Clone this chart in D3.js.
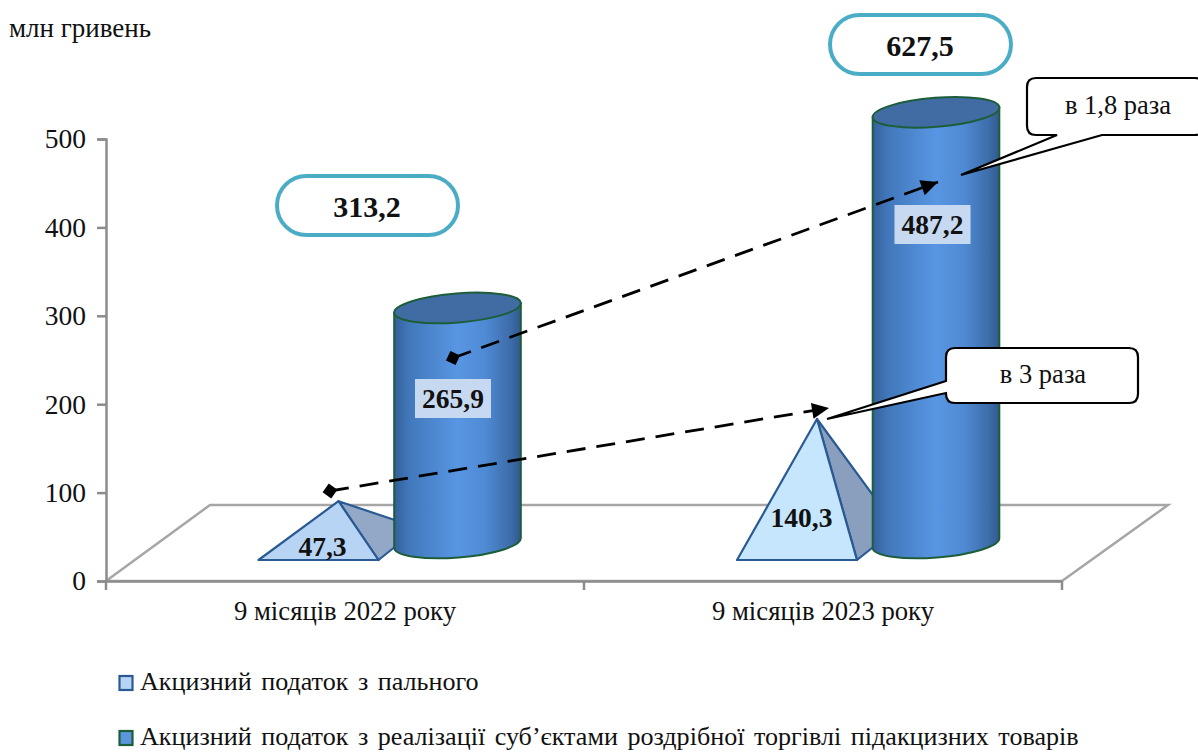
<!DOCTYPE html>
<html><head><meta charset="utf-8">
<script src="https://cdn.jsdelivr.net/npm/d3@7"></script>
<style>html,body{margin:0;padding:0;background:#fff}svg{display:block}text{font-family:"Liberation Serif",serif;fill:#111}</style>
</head><body><div id="c"></div>
<script>
const categories = ["9 місяців 2022 року", "9 місяців 2023 року"];
const fuelValues = [47.3, 140.3];
const retailValues = [265.9, 487.2];
const totals = ["313,2", "627,5"];
const yTicks = [0, 100, 200, 300, 400, 500];
const seriesNames = ["Акцизний податок з пального", "Акцизний податок з реалізації суб’єктами роздрібної торгівлі підакцизних товарів"];
const ratios = ["в 1,8 раза", "в 3 раза"];
const fmt = v => String(v).replace(".", ",");

const W = 1198, H = 752;
const svg = d3.select("#c").append("svg").attr("width", W).attr("height", H);
const defs = svg.append("defs");
const grad = defs.append("linearGradient").attr("id", "cyl");
[[0,"#34609a"],[.12,"#4278bb"],[.5,"#5896e3"],[.72,"#4f8ad4"],[.92,"#3d6ca8"],[1,"#315a8e"]].forEach(s =>
  grad.append("stop").attr("offset", s[0]).attr("stop-color", s[1]));
const mk = (id, path, w, h) => defs.append("marker").attr("id", id).attr("markerUnits", "userSpaceOnUse")
  .attr("viewBox", `${-w} ${-h} ${2*w} ${2*h}`).attr("markerWidth", 2*w).attr("markerHeight", 2*h)
  .attr("orient", "auto").attr("refX", 0).attr("refY", 0).append("path").attr("d", path).attr("fill", "#000");
mk("arrow", "M0,0L-17,-8L-17,8Z", 18, 9);
mk("diamond", "M-7.5,0L0,-7.5L7.5,0L0,7.5Z", 8, 8);

const y = d3.scaleLinear().domain([0, 500]).range([581, 139]);
const x = d3.scaleBand().domain(categories).range([106, 1062]);
const seriesX = d3.scalePoint().domain(seriesNames).range([-26.5, 112.5]);
const cx = (i, s) => x(categories[i]) + x.bandwidth() / 2 + seriesX(seriesNames[s]) + i * .5;
const depth = 38, baseY = y(0) - depth;
const axisCol = "#8c8c8c";

// floor
svg.append("path").attr("fill", "#fff").attr("stroke", "#a6a6a6").attr("stroke-width", 2.5)
  .attr("d", `M${x.range()[0]},${y(0)}L210,505L1168,505L${x.range()[1]},${y(0)}Z`);

// axes
const gy = svg.append("g").attr("transform", "translate(106,0)").call(d3.axisLeft(y).tickValues(yTicks).tickSize(9).tickPadding(11));
const gx = svg.append("g").attr("transform", `translate(0,${y(0)})`).call(d3.axisBottom(x).tickSize(0).tickPadding(20));
[0, 1, 2].forEach(i => gx.append("line").attr("x1", 106 + i * x.bandwidth()).attr("x2", 106 + i * x.bandwidth()).attr("y2", 9));
[gy, gx].forEach(g => { g.selectAll("path,line").attr("stroke", axisCol).attr("stroke-width", 2.5);
  g.selectAll("text").attr("font-family", "Liberation Serif").attr("fill", "#111"); });
gy.selectAll("text").attr("font-size", 27.5);
gx.selectAll("text").attr("font-size", 26.7).attr("dy", "0.71em");

// pyramids
const pyrFill = ["#b8d4f5", "#c6e6fd"], pyrSide = ["#93a8c6", "#8a9fbd"];
fuelValues.forEach((v, i) => {
  const c = cx(i, 0), a = [c + 20, y(v) - depth], fl = [c - 60, 560], fr = [c + 60, 560], br = [c + 100, 528];
  const g = svg.append("g").attr("stroke", "#2a5a94").attr("stroke-width", 2.2).attr("stroke-linejoin", "round");
  g.append("path").attr("fill", pyrSide[i]).attr("d", d3.line()([a, fr, br]) + "Z");
  g.append("path").attr("fill", pyrFill[i]).attr("d", d3.line()([a, fl, fr]) + "Z");
});

// cylinders
const rx = 63.5, ry = 14.5, tilt = -4.5, t = tilt * Math.PI / 180, dx = rx * Math.cos(t), dy = rx * Math.sin(t);
retailValues.forEach((v, i) => {
  const c = cx(i, 1), top = y(v) - depth, g = svg.append("g").attr("stroke", "#1d5e3a").attr("stroke-width", 2);
  g.append("path").attr("fill", "url(#cyl)")
    .attr("d", `M${c-dx},${top-dy}L${c-dx},${baseY-dy}A${rx},${ry} ${tilt} 0 0 ${c+dx},${baseY+dy}L${c+dx},${top+dy}Z`);
  g.append("ellipse").attr("fill", "#416ca3").attr("rx", rx).attr("ry", ry)
    .attr("transform", `translate(${c},${top}) rotate(${tilt})`);
});

// value labels
const label = (txt, px, py, bg) => {
  if (bg) svg.append("rect").attr("x", px - 38).attr("y", py - 20).attr("width", 76).attr("height", 39).attr("fill", "#c6d9f1");
  svg.append("text").attr("x", px).attr("y", py + 9).attr("text-anchor", "middle").attr("font-weight", "bold").attr("font-size", 27.5).text(txt);
};
label(fmt(fuelValues[0]), cx(0, 0) + 4, 547, false);
label(fmt(fuelValues[1]), cx(1, 0) + 4.5, 518, false);
label(fmt(retailValues[0]), cx(0, 1) - 4.5, 399, true);
label(fmt(retailValues[1]), cx(1, 1) - 3.5, 225, true);

// callouts
const callout = (x0, y0, x1, y1, tail, txt, tx) => {
  const r = 9;
  const [a, tip, b] = tail;
  const p = tail.side === "left"
    ? `M${x0+r},${y0}H${x1-r}Q${x1},${y0} ${x1},${y0+r}V${y1-r}Q${x1},${y1} ${x1-r},${y1}H${x0+r}Q${x0},${y1} ${x0},${y1-r}V${b[1]}L${tip[0]},${tip[1]}L${a[0]},${a[1]}V${y0+r}Q${x0},${y0} ${x0+r},${y0}Z`
    : `M${x0+r},${y0}H${x1-r}Q${x1},${y0} ${x1},${y0+r}V${y1-r}Q${x1},${y1} ${x1-r},${y1}H${b[0]}L${tip[0]},${tip[1]}L${a[0]},${a[1]}H${x0+r}Q${x0},${y1} ${x0},${y1-r}V${y0+r}Q${x0},${y0} ${x0+r},${y0}Z`;
  svg.append("path").attr("d", p).attr("fill", "#fff").attr("stroke", "#000").attr("stroke-width", 2.2);
  svg.append("text").attr("x", tx).attr("y", (y0 + y1) / 2 + 7).attr("text-anchor", "middle").attr("font-size", 26.5).text(txt);
};
const t1 = [[1057,135],[961,175],[1102,135]];
const t2 = [[946,381],[827,419],[946,393]]; t2.side = "left";
callout(1027, 78, 1204, 135, t1, ratios[0], 1118);
callout(946, 348, 1138, 403, t2, ratios[1], 1043);

// dashed growth arrows
const growth = [[[453,358],[938,182]],[[330,491],[829,408]]];
growth.forEach(l => svg.append("path").attr("d", d3.line()(l)).attr("fill", "none").attr("stroke", "#000")
  .attr("stroke-width", 2.8).attr("stroke-dasharray", "19 11")
  .attr("marker-start", "url(#diamond)").attr("marker-end", "url(#arrow)"));

// total pills
const pills = [[275, 174], [828, 13]];
totals.forEach((tx, i) => {
  const [px, py] = pills[i];
  svg.append("rect").attr("x", px + 2).attr("y", py + 2).attr("width", 181).attr("height", 59).attr("rx", 29.5)
    .attr("fill", "#fff").attr("stroke", "#4bacc6").attr("stroke-width", 4);
  svg.append("text").attr("x", px + 92).attr("y", py + 43).attr("text-anchor", "middle").attr("font-weight", "bold").attr("font-size", 30).text(tx);
});

svg.append("text").attr("x", 9).attr("y", 37).attr("font-size", 27).text("млн гривень");

// legend
const legFill = ["#b8d4f5", "#5b96dc"], legStroke = ["#2a5a94", "#1d5e3a"], legY = [683, 738];
seriesNames.forEach((n, i) => {
  svg.append("rect").attr("x", 119.5).attr("y", legY[i] - 7).attr("width", 13).attr("height", 14)
    .attr("fill", legFill[i]).attr("stroke", legStroke[i]).attr("stroke-width", 2.2);
  svg.append("text").attr("x", 140).attr("y", legY[i] + 7).attr("font-size", 26.1).attr("word-spacing", 3).text(n);
});
</script></body></html>
